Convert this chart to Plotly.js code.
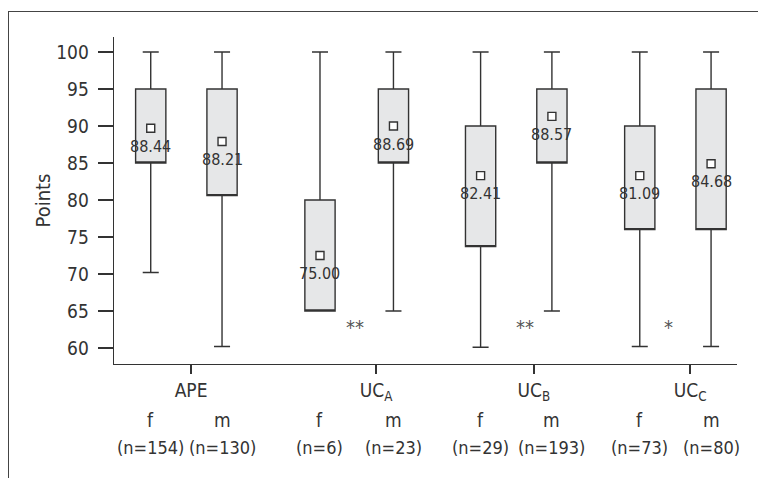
<!DOCTYPE html>
<html><head><meta charset="utf-8">
<script src="https://cdn.plot.ly/plotly-3.0.1.min.js"></script>
<style>
body{margin:0;overflow:hidden;background:#fff;}
#frame{position:absolute;left:8px;top:11px;width:800px;height:500px;border:1.5px solid #444;box-sizing:border-box;}
#chart{position:absolute;left:0;top:0;width:758px;height:478px;}
</style></head>
<body><div id="frame"></div><div id="chart"></div>
<script>
// Data
const groups = ["APE", "UC<sub>A</sub>", "UC<sub>B</sub>", "UC<sub>C</sub>"];
const sexes = ["f","m","f","m","f","m","f","m"];
const nLabels = ["(n=154)","(n=130)","(n=6)","(n=23)","(n=29)","(n=193)","(n=73)","(n=80)"];
const upper = [100, 100, 100, 100, 100, 100, 100, 100];
const q3    = [95, 95, 80, 95, 90, 95, 90, 95];
const q1    = [85, 80.6, 65, 85, 73.7, 85, 76, 76];
const lower = [70.2, 60.2, 65, 65, 60.1, 65, 60.2, 60.2];
const markerVals = [89.7, 87.9, 72.5, 90.0, 83.3, 91.3, 83.3, 84.9];
const meanLabels = ["88.44","88.21","75.00","88.69","82.41","88.57","81.09","84.68"];
const stars = ["**","**","*"];
const starVals = [62.8, 62.8, 62.9];

// Layout positions
const boxX = [1, 1.99, 3.35, 4.37, 5.58, 6.57, 7.79, 8.78];
const groupTickX = [1.56, 4.13, 6.32, 8.49];
const starX = [3.84, 6.19, 8.19];

const FONT = "'DejaVu Sans Condensed', 'Liberation Sans Narrow', sans-serif";
const INK = "#333333";

const boxTrace = {
  type: "box",
  x: boxX,
  q1: q1,
  median: q1,
  q3: q3,
  lowerfence: lower,
  upperfence: upper,
  width: 0.42,
  whiskerwidth: 0.53,
  fillcolor: "#e6e7e8",
  line: {color: INK, width: 1.4},
  hoverinfo: "skip",
  showlegend: false
};

const markTrace = {
  type: "scatter",
  mode: "markers",
  x: boxX,
  y: markerVals,
  marker: {symbol: "square", size: 8, color: "#ffffff", line: {color: INK, width: 1.4}},
  hoverinfo: "skip",
  showlegend: false
};

const annotations = [];
for (let i = 0; i < boxX.length; i++) {
  annotations.push({x: boxX[i], y: markerVals[i], xref: "x", yref: "y", text: meanLabels[i],
    showarrow: false, yanchor: "middle", yshift: -18, font: {family: FONT, size: 16, color: INK}});
  annotations.push({x: boxX[i], y: 0, xref: "x", yref: "paper", text: sexes[i],
    showarrow: false, yanchor: "middle", yshift: -56, font: {family: FONT, size: 19, color: INK}});
  annotations.push({x: boxX[i], y: 0, xref: "x", yref: "paper", text: nLabels[i],
    showarrow: false, yanchor: "middle", yshift: -83, font: {family: FONT, size: 18, color: INK}});
}
for (let i = 0; i < stars.length; i++) {
  annotations.push({x: starX[i], y: starVals[i], xref: "x", yref: "y", text: stars[i],
    showarrow: false, yanchor: "middle", font: {family: FONT, size: 20, color: "#555555"}});
}

const layout = {
  width: 758, height: 478,
  margin: {l: 114, r: 21, t: 37, b: 114},
  paper_bgcolor: "rgba(0,0,0,0)",
  plot_bgcolor: "rgba(0,0,0,0)",
  font: {family: FONT, color: INK},
  xaxis: {
    range: [0.49, 9.14], showgrid: false, zeroline: false,
    showline: true, linecolor: INK, linewidth: 1.4,
    ticks: "outside", ticklen: 9, tickwidth: 1.4, tickcolor: INK,
    tickvals: groupTickX, ticktext: groups,
    tickfont: {family: FONT, size: 19, color: INK}
  },
  yaxis: {
    range: [57.84, 102.03], showgrid: false, zeroline: false,
    showline: true, linecolor: INK, linewidth: 1.4,
    ticks: "outside", ticklen: 15, tickwidth: 1.4, tickcolor: INK,
    tickvals: [60,65,70,75,80,85,90,95,100],
    ticklabelstandoff: 5,
    tickfont: {family: FONT, size: 19, color: INK},
    title: {text: "Points", standoff: 0, font: {family: FONT, size: 20, color: INK}}
  },
  annotations: annotations
};

Plotly.newPlot("chart", [boxTrace, markTrace], layout, {displayModeBar: false, staticPlot: true});
</script></body></html>
